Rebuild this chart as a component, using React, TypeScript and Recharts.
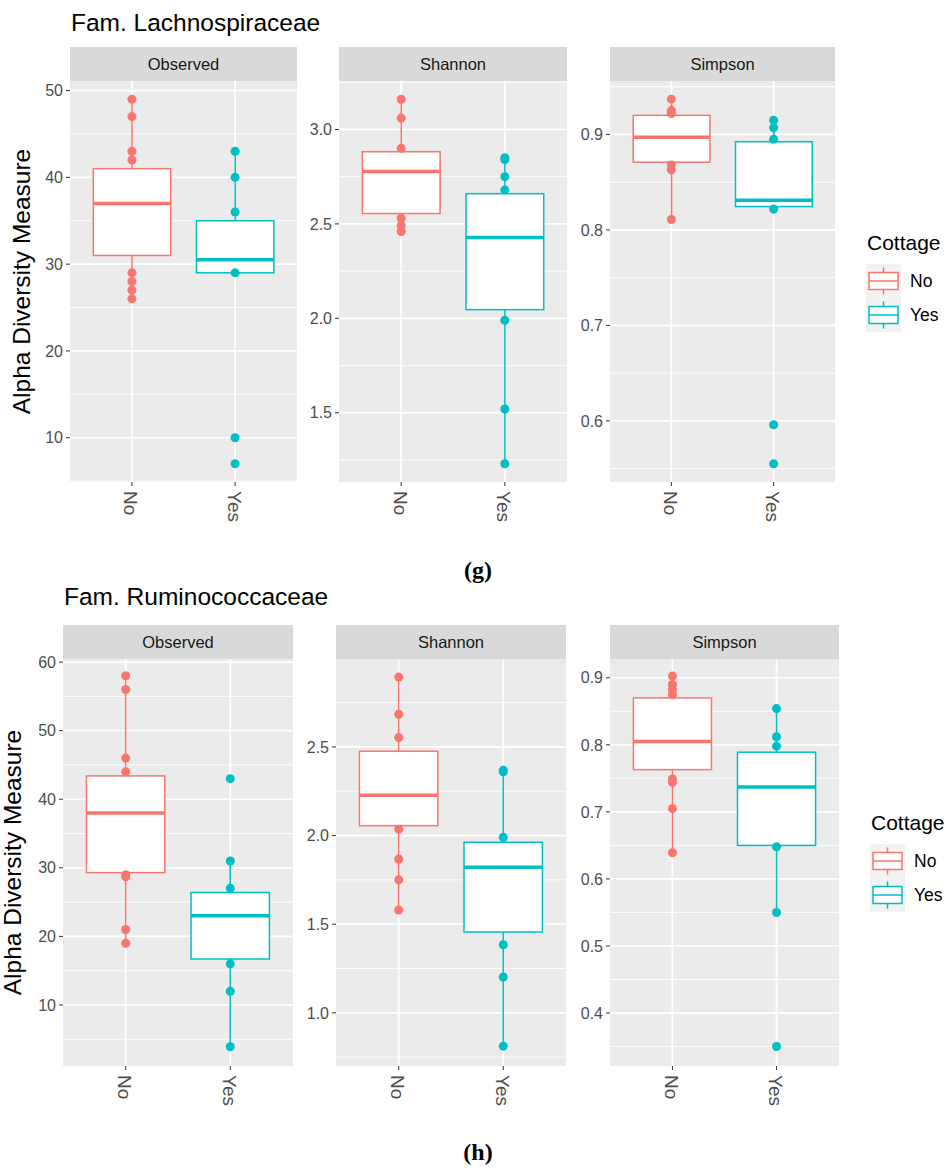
import React from 'react';
import { ComposedChart, Bar, Scatter, XAxis, YAxis, CartesianGrid } from 'recharts';

const GROUPS = ['No', 'Yes'];
const METRICS = ['Observed', 'Shannon', 'Simpson'];
const LEGEND_TITLE = 'Cottage';
const Y_LABEL = 'Alpha Diversity Measure';

// box stats: whisker low, Q1, median, Q3, whisker high
// (g) Fam. Lachnospiraceae
const lachObsBox = [[26, 31, 37, 41, 49], [29, 29, 30.5, 35, 43]];
const lachObsPts = [[49, 47, 43, 42, 29, 28, 27, 26], [43, 40, 36, 29, 10, 7]];
const lachShaBox = [[2.46, 2.555, 2.777, 2.882, 3.16], [1.23, 2.046, 2.428, 2.66, 2.85]];
const lachShaPts = [[3.16, 3.06, 2.9, 2.53, 2.49, 2.46], [2.85, 2.84, 2.75, 2.68, 1.99, 1.52, 1.23]];
const lachSimBox = [[0.811, 0.871, 0.897, 0.92, 0.937], [0.822, 0.8245, 0.831, 0.8924, 0.915]];
const lachSimPts = [[0.937, 0.925, 0.922, 0.868, 0.863, 0.811], [0.915, 0.907, 0.895, 0.822, 0.596, 0.555]];

// (h) Fam. Ruminococcaceae
const rumiObsBox = [[19, 29.3, 38, 43.4, 58], [3.9, 16.7, 23, 26.4, 31]];
const rumiObsPts = [[58, 56, 46, 44, 29, 28.7, 21, 19], [43, 31, 27, 16, 12, 3.9]];
const rumiShaBox = [[1.58, 2.056, 2.228, 2.476, 2.894], [0.812, 1.456, 1.821, 1.962, 2.369]];
const rumiShaPts = [[2.894, 2.684, 2.553, 2.036, 1.867, 1.75, 1.58], [2.369, 2.36, 1.99, 1.384, 1.202, 0.812]];
const rumiSimBox = [[0.639, 0.763, 0.805, 0.87, 0.9025], [0.55, 0.65, 0.737, 0.789, 0.854]];
const rumiSimPts = [[0.9025, 0.89, 0.8825, 0.875, 0.749, 0.744, 0.705, 0.639], [0.854, 0.812, 0.798, 0.648, 0.55, 0.35]];

// axis ticks
const lachObsTicks = [10, 20, 30, 40, 50];
const lachObsMinor = [5, 15, 25, 35, 45];
const lachShaTicks = [1.5, 2.0, 2.5, 3.0];
const lachShaMinor = [1.25, 1.75, 2.25, 2.75, 3.25];
const lachSimTicks = [0.6, 0.7, 0.8, 0.9];
const lachSimMinor = [0.55, 0.65, 0.75, 0.85, 0.95];
const rumiObsTicks = [10, 20, 30, 40, 50, 60];
const rumiObsMinor = [5, 15, 25, 35, 45, 55];
const rumiShaTicks = [1.0, 1.5, 2.0, 2.5];
const rumiShaMinor = [0.75, 1.25, 1.75, 2.25, 2.75];
const rumiSimTicks = [0.4, 0.5, 0.6, 0.7, 0.8, 0.9];
const rumiSimMinor = [0.35, 0.45, 0.55, 0.65, 0.75, 0.85];

const FONT = '"Liberation Sans", Arial, Helvetica, sans-serif';
const COLORS = ['#F8766D', '#00BFC4'];

const XTick = (props: any) => {
  const { x, y, payload } = props;
  return (
    <text
      transform={`translate(${x - 1},${y + 3}) rotate(90)`}
      textAnchor="start"
      dominantBaseline="central"
      fill="#4D4D4D"
      fontSize={19}
      fontFamily={FONT}
    >
      {GROUPS[payload.value - 1]}
    </text>
  );
};

const BoxShape = (props: any) => {
  const { x, y, width, height, payload, boxW } = props;
  if (x == null || y == null) return null;
  const top = Math.min(y, y + height);
  const bot = Math.max(y, y + height);
  const { lo, q1, med, q3, hi } = payload;
  // map a value into pixels using the bar's own scaled extent
  const py = (v: number) => (hi === lo ? top : top + ((bot - top) * (hi - v)) / (hi - lo));
  const cx = x + width / 2;
  const c = COLORS[GROUPS.indexOf(payload.name)];
  return (
    <g>
      <line x1={cx} x2={cx} y1={py(hi)} y2={py(lo)} stroke={c} strokeWidth={1.5} />
      <rect x={cx - boxW / 2} y={py(q3)} width={boxW} height={py(q1) - py(q3)} fill="#FFFFFF" stroke={c} strokeWidth={1.5} />
      <line x1={cx - boxW / 2} x2={cx + boxW / 2} y1={py(med)} y2={py(med)} stroke={c} strokeWidth={3.5} />
    </g>
  );
};

type FacetProps = {
  boxes: number[][];
  points: number[][];
  domain: [number, number];
  ticks: number[];
  minor: number[];
  digits: number;
  left: number;
  right: number;
  top: number;
  bottom: number;
};

const Facet = ({ boxes, points, domain, ticks, minor, digits, left, right, top, bottom }: FacetProps) => {
  const yw = 44;
  const xh = 60;
  const mt = 12;
  const pw = right - left;
  const ph = bottom - top;
  const boxW = (0.75 * pw) / 2.2;
  const rows = GROUPS.map((g, i) => ({
    name: g,
    x: i + 1,
    lo: boxes[i][0],
    q1: boxes[i][1],
    med: boxes[i][2],
    q3: boxes[i][3],
    hi: boxes[i][4],
  }));
  return (
    <div style={{ position: 'absolute', left: left - yw, top: top - mt }}>
      <ComposedChart width={pw + yw} height={ph + xh + mt} data={rows} margin={{ top: mt, right: 0, bottom: 0, left: 0 }}>
        <CartesianGrid fill="#EBEBEB" stroke="#FFFFFF" strokeWidth={0.9} vertical={false} horizontalValues={minor} />
        <CartesianGrid stroke="#FFFFFF" strokeWidth={1.7} horizontalValues={ticks} verticalValues={[1, 2]} />
        <XAxis
          type="number"
          dataKey="x"
          domain={[0.4, 2.6]}
          ticks={[1, 2]}
          allowDataOverflow
          axisLine={false}
          tickLine={{ stroke: '#333333' }}
          tickSize={4}
          height={xh}
          interval={0}
          tick={<XTick />}
        />
        <YAxis
          type="number"
          domain={domain}
          ticks={ticks}
          allowDataOverflow
          axisLine={false}
          tickLine={{ stroke: '#333333' }}
          tickSize={4}
          tickMargin={3}
          width={yw}
          interval={0}
          tick={{ fill: '#4D4D4D', fontSize: 16, fontFamily: FONT }}
          tickFormatter={(v: number) => v.toFixed(digits)}
        />
        {GROUPS.map((g, i) => (
          <Scatter
            key={g}
            data={points[i].map((v) => ({ x: i + 1, v }))}
            dataKey="v"
            fill={COLORS[i]}
            isAnimationActive={false}
          />
        ))}
        <Bar
          dataKey={(d: any) => [d.lo, d.hi]}
          barSize={boxW}
          shape={(p: any) => <BoxShape {...p} boxW={boxW} />}
          isAnimationActive={false}
        />
      </ComposedChart>
    </div>
  );
};

const Legend = ({ lx, ly }: { lx: number; ly: number }) => {
  const keyTop = ly + 14;
  const kh = 34;
  const kw = 35;
  return (
    <g>
      <text x={lx} y={ly} fontSize={21} fontFamily={FONT} fill="#000">{LEGEND_TITLE}</text>
      <rect x={lx - 1} y={keyTop} width={kw} height={kh * 2} fill="#F2F2F2" />
      {GROUPS.map((g, i) => {
        const t = keyTop + i * kh;
        const cx = lx - 1 + kw / 2;
        return (
          <g key={g}>
            <line x1={cx} x2={cx} y1={t + 3.4} y2={t + kh - 3.4} stroke={COLORS[i]} strokeWidth={1.5} />
            <rect x={lx + 2} y={t + 8.5} width={kw - 6} height={kh - 17} fill="#FFFFFF" stroke={COLORS[i]} strokeWidth={1.5} />
            <line x1={lx + 2} x2={lx + kw - 4} y1={t + kh / 2} y2={t + kh / 2} stroke={COLORS[i]} strokeWidth={1.5} />
            <text x={lx + 43} y={t + kh / 2 + 6} fontSize={17.5} fontFamily={FONT} fill="#000">{g}</text>
          </g>
        );
      })}
    </g>
  );
};

const ROWS = [
  {
    title: 'Fam. Lachnospiraceae',
    tag: '(g)',
    titleX: 71,
    titleY: 31,
    top: 81,
    bottom: 482,
    ylabX: 30,
    tagY: 578,
    legend: [867, 250],
    cols: [[70, 297], [339, 567], [610, 835]],
    facets: [
      { boxes: lachObsBox, points: lachObsPts, domain: [4.9, 51.1], ticks: lachObsTicks, minor: lachObsMinor, digits: 0 },
      { boxes: lachShaBox, points: lachShaPts, domain: [1.1335, 3.2565], ticks: lachShaTicks, minor: lachShaMinor, digits: 1 },
      { boxes: lachSimBox, points: lachSimPts, domain: [0.536, 0.956], ticks: lachSimTicks, minor: lachSimMinor, digits: 1 },
    ],
  },
  {
    title: 'Fam. Ruminococcaceae',
    tag: '(h)',
    titleX: 64,
    titleY: 605,
    top: 659,
    bottom: 1066,
    ylabX: 21,
    tagY: 1160,
    legend: [871, 830],
    cols: [[63, 293], [336, 566], [610, 839]],
    facets: [
      { boxes: rumiObsBox, points: rumiObsPts, domain: [1.1, 60.45], ticks: rumiObsTicks, minor: rumiObsMinor, digits: 0 },
      { boxes: rumiShaBox, points: rumiShaPts, domain: [0.7, 2.996], ticks: rumiShaTicks, minor: rumiShaMinor, digits: 1 },
      { boxes: rumiSimBox, points: rumiSimPts, domain: [0.321, 0.928], ticks: rumiSimTicks, minor: rumiSimMinor, digits: 1 },
    ],
  },
];

export default function App() {
  return (
    <div style={{ position: 'absolute', left: 0, top: 0, width: 946, height: 1169, background: '#FFFFFF', overflow: 'hidden' }}>
      <svg width={946} height={1169} style={{ position: 'absolute', left: 0, top: 0 }}>
        {ROWS.map((r) => (
          <g key={r.title}>
            <text x={r.titleX} y={r.titleY} fontSize={24.5} fontFamily={FONT} fill="#000">{r.title}</text>
            <text
              transform={`translate(${r.ylabX},${(r.top + r.bottom) / 2}) rotate(-90)`}
              textAnchor="middle"
              fontSize={24.5}
              fontFamily={FONT}
              fill="#000"
            >
              {Y_LABEL}
            </text>
            {r.cols.map(([l, rt], i) => (
              <g key={i}>
                <rect x={l} y={r.top - 34} width={rt - l} height={34} fill="#D9D9D9" />
                <text x={(l + rt) / 2} y={r.top - 11.5} textAnchor="middle" fontSize={16.5} fontFamily={FONT} fill="#1A1A1A">
                  {METRICS[i]}
                </text>
              </g>
            ))}
            <Legend lx={r.legend[0]} ly={r.legend[1]} />
            <text x={478} y={r.tagY} textAnchor="middle" fontSize={24} fontWeight="bold" fontFamily='"Liberation Serif", "DejaVu Serif", serif' fill="#000">
              {r.tag}
            </text>
          </g>
        ))}
      </svg>
      {ROWS.map((r) =>
        r.facets.map((f, i) => (
          <Facet
            key={`${r.title}-${i}`}
            boxes={f.boxes}
            points={f.points}
            domain={f.domain as [number, number]}
            ticks={f.ticks}
            minor={f.minor}
            digits={f.digits}
            left={r.cols[i][0]}
            right={r.cols[i][1]}
            top={r.top}
            bottom={r.bottom}
          />
        ))
      )}
    </div>
  );
}
